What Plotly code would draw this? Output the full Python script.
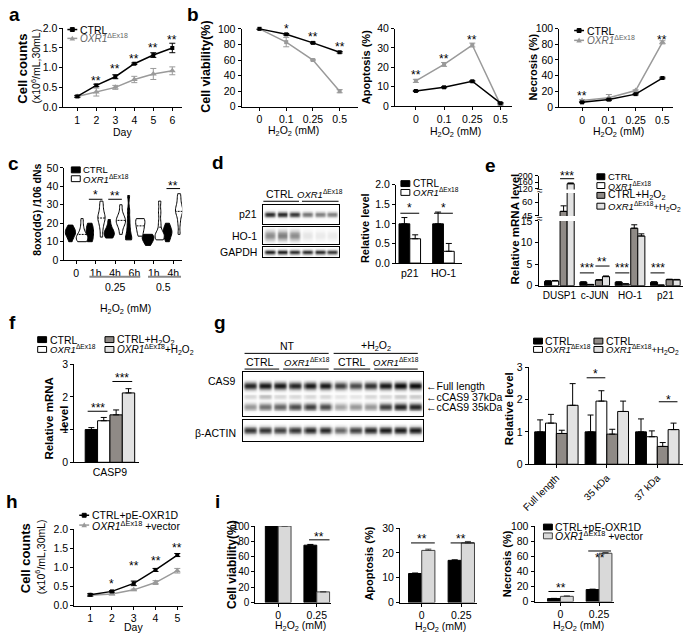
import numpy as np
import plotly.graph_objects as go

W, H = 685, 640
FONT = "Arial, 'Liberation Sans', Helvetica, sans-serif"
OX = "<i>OXR1</i><sup>ΔEx18</sup>"
H2O2 = "H<sub>2</sub>O<sub>2</sub>"
GREY_LINE = "#9a9a9a"
C_BLACK, C_WHITE, C_GREY, C_LIGHT = "#000000", "#ffffff", "#8f8a86", "#e2e2e2"
TICK = 10.5
XT = 10.5
STAR = 12

# ---------------- data ----------------
# a: growth curve
days_a = [1, 2, 3, 4, 5, 6]
a_ctrl = [0.27, 0.55, 0.77, 1.10, 1.32, 1.50]
a_ctrl_err = [0.02, 0.03, 0.05, 0.02, 0.06, 0.12]
a_oxr = [0.27, 0.38, 0.50, 0.70, 0.84, 0.92]
a_oxr_err = [0.03, 0.10, 0.05, 0.08, 0.14, 0.10]
a_stars = ["**", "**", "**", "**", "**"]
a_star_x = [2, 3, 4, 5, 6]
a_star_y = [0.75, 1.03, 1.30, 1.57, 1.78]

# b: H2O2 dose response
b_conc = ["0", "0.1", "0.25", "0.5"]
b_viab_ctrl = [100, 93, 82, 70]
b_viab_ctrl_err = [0.5, 1, 1, 1]
b_viab_oxr = [100, 83, 60, 20]
b_viab_oxr_err = [0.5, 6, 1, 2]
b_apo_ctrl = [7.8, 9.7, 12.8, 1.5]
b_apo_ctrl_err = [0.3, 0.3, 0.3, 0.3]
b_apo_oxr = [13.0, 21.5, 31.5, 0.6]
b_apo_oxr_err = [0.8, 1.0, 1.0, 0.4]
b_nec_ctrl = [6, 9.5, 16.5, 37]
b_nec_ctrl_err = [0.5, 1, 1, 1]
b_nec_oxr = [8.5, 12, 21, 82.5]
b_nec_oxr_err = [1, 4, 1, 2]

# c: 8oxo(dG) violins (observations per group)
c_groups = ["0", "1h", "4h", "6h", "1h", "4h"]
c_ctrl = [
    [10, 13, 14, 15, 15, 16, 17, 19],
    [10, 11, 12, 14, 15, 16, 17, 19, 20],
    [12, 13, 14, 14.5, 15, 16, 18, 22],
    [11, 11.5, 12, 15, 18, 22, 27, 35],
    [8, 10, 11.5, 12, 12.5, 13, 14],
    [10, 12, 14, 15, 15.5, 16, 18, 20],
]
c_oxr = [
    [10, 11, 11.5, 12, 12.5, 13, 15, 18, 22.5],
    [12.5, 17, 20, 22, 23, 24, 26, 29, 32],
    [14, 18, 20, 21, 21.5, 23, 25, 30],
    [13, 16, 18, 20, 22, 22.5],
    [11, 12, 13, 14, 15, 20, 26, 32],
    [14, 20, 24, 26, 27, 28, 30, 33, 36],
]

# d: western blot band intensities + quantification
d_p21_bands = [0.85, 0.85, 0.80, 0.55, 0.50, 0.50]
d_ho1_bands = [0.45, 0.50, 0.45, 0.10, 0.08, 0.08]
d_gapdh_bands = [0.90, 0.90, 0.85, 0.85, 0.85, 0.80]
d_cats = ["p21", "HO-1"]
d_ctrl = [1.0, 1.0]
d_ctrl_err = [0.16, 0.30]
d_oxr = [0.62, 0.30]
d_oxr_err = [0.10, 0.20]

# e: qPCR with broken axis
e_cats = ["DUSP1", "c-JUN", "HO-1", "p21"]
e_ctrl = [1.0, 0.8, 0.8, 0.8]
e_ctrl_err = [0.15, 0.1, 0.1, 0.1]
e_oxr = [1.1, 0.25, 0.35, 0.1]
e_oxr_err = [0.1, 0.05, 0.1, 0.05]
e_ctrl_h = [50, 1.3, 13.3, 1.4]
e_ctrl_h_err = [6, 0.1, 0.8, 0.1]
e_oxr_h = [150, 2.1, 11.5, 1.35]
e_oxr_h_err = [5, 0.15, 0.5, 0.1]

# f: CASP9 mRNA
f_cat = ["CASP9"]
f_vals = [1.0, 1.27, 1.45, 2.12]
f_errs = [0.06, 0.10, 0.15, 0.13]

# g: CAS9 blot + quantification
g_full = [0.85, 0.90, 0.90, 0.85, 0.90, 0.90, 0.75, 0.70, 0.80, 0.90, 0.95, 0.95]
g_37 = [0.15, 0.25, 0.15, 0.15, 0.15, 0.15, 0.10, 0.10, 0.15, 0.15, 0.20, 0.20]
g_35 = [0.40, 0.55, 0.60, 0.70, 0.75, 0.70, 0.35, 0.40, 0.40, 0.75, 0.85, 0.85]
g_actin = [0.80, 0.80, 0.75, 0.80, 0.85, 0.85, 0.60, 0.75, 0.85, 0.90, 0.90, 0.90]
g_cats = ["Full length", "35 kDa", "37 kDa"]
g_ctrl = [1.0, 1.0, 1.0]
g_ctrl_err = [0.37, 0.52, 0.40]
g_oxr = [1.27, 1.95, 0.85]
g_oxr_err = [0.27, 0.32, 0.18]
g_ctrl_h = [0.95, 0.93, 0.55]
g_ctrl_h_err = [0.10, 0.15, 0.12]
g_oxr_h = [1.82, 1.63, 1.07]
g_oxr_h_err = [0.67, 0.32, 0.20]

# h: rescue growth curve
days_h = [1, 2, 3, 4, 5]
h_ctrl = [0.28, 0.37, 0.58, 0.93, 1.32]
h_ctrl_err = [0.03, 0.02, 0.06, 0.04, 0.04]
h_oxr = [0.27, 0.30, 0.41, 0.60, 0.91]
h_oxr_err = [0.02, 0.02, 0.02, 0.05, 0.06]

# i: rescue viability / apoptosis / necrosis
i_conc = ["0", "0.25"]
i_viab_ctrl = [100, 75]
i_viab_ctrl_err = [0.3, 1]
i_viab_oxr = [100, 14]
i_viab_oxr_err = [0.3, 0.3]
i_apo_ctrl = [11.7, 17]
i_apo_ctrl_err = [0.2, 0.2]
i_apo_oxr = [21, 24]
i_apo_oxr_err = [0.5, 0.6]
i_nec_ctrl = [4, 16]
i_nec_ctrl_err = [0.3, 0.5]
i_nec_oxr = [7, 64]
i_nec_oxr_err = [0.5, 1]

# ---------------- helpers ----------------
fig = go.Figure()
ann, shp = [], []
count = [0]


def px(x, y):
    return x / W, 1 - y / H


def new_axes(x0, x1, ytop, ybot, xr, yr, xkw=None, ykw=None):
    count[0] += 1
    s = "" if count[0] == 1 else str(count[0])
    base = dict(showline=True, linecolor="black", linewidth=1, ticks="outside",
                ticklen=3, tickwidth=1, tickcolor="black", showgrid=False,
                zeroline=False, tickfont=dict(size=TICK, color="black", family=FONT),
                fixedrange=True)
    xa = dict(base, domain=[x0 / W, x1 / W], range=xr, anchor="y" + s)
    ya = dict(base, domain=[1 - ybot / H, 1 - ytop / H], range=yr, anchor="x" + s)
    if xkw:
        xa.update(xkw)
    if ykw:
        ya.update(ykw)
    fig.update_layout({"xaxis" + s: xa, "yaxis" + s: ya})
    return "x" + s, "y" + s


def text_px(x, y, t, size=10, angle=0, xanchor="center", color="black"):
    X, Y = px(x, y)
    ann.append(dict(x=X, y=Y, xref="paper", yref="paper", text=t, showarrow=False,
                    textangle=angle, xanchor=xanchor, yanchor="middle",
                    font=dict(size=size, color=color, family=FONT)))


def text_data(xa, ya, x, y, t, size=STAR):
    ann.append(dict(x=x, y=y, xref=xa, yref=ya, text=t, showarrow=False,
                    xanchor="center", yanchor="middle", yshift=-3,
                    font=dict(size=size, color="black", family=FONT)))


def star_px(xa, x, ypx, t, size=STAR):
    ann.append(dict(x=x, y=1 - ypx / H, xref=xa, yref="paper", text=t, showarrow=False,
                    xanchor="center", yanchor="middle", yshift=-3,
                    font=dict(size=size, color="black", family=FONT)))


def hline_data(xa, ya, x0, x1, y, color="black", width=1):
    shp.append(dict(type="line", xref=xa, yref=ya, x0=x0, x1=x1, y0=y, y1=y,
                    line=dict(color=color, width=width)))


def hline_px(x0, x1, y, color="black", width=1):
    X0, Y = px(x0, y)
    X1, _ = px(x1, y)
    shp.append(dict(type="line", xref="paper", yref="paper", x0=X0, x1=X1, y0=Y, y1=Y,
                    line=dict(color=color, width=width)))


def rect_px(x0, y0, x1, y1, fill, edge="black"):
    X0, Y0 = px(x0, y0)
    X1, Y1 = px(x1, y1)
    shp.append(dict(type="rect", xref="paper", yref="paper", x0=X0, x1=X1, y0=Y1, y1=Y0,
                    fillcolor=fill, line=dict(color=edge, width=1)))


def tri_px(cx, cy, r, fill):
    pts = [(cx, cy - r), (cx + r, cy + r * 0.8), (cx - r, cy + r * 0.8)]
    path = "M " + " L ".join(f"{p[0] / W},{1 - p[1] / H}" for p in pts) + " Z"
    shp.append(dict(type="path", xref="paper", yref="paper", path=path,
                    fillcolor=fill, line=dict(color=fill, width=0)))


def line_legend(x0, y, label, color, marker, size=10, tcolor="black"):
    hline_px(x0, x0 + 10, y, color, 1.5)
    if marker == "square":
        rect_px(x0 + 3, y - 2, x0 + 7, y + 2, color, color)
    else:
        tri_px(x0 + 5, y, 2.8, color)
    text_px(x0 + 11, y, label, size=size, xanchor="left", color=tcolor)


def box_legend(x0, y, label, fill, size=10, w=9, h=6):
    rect_px(x0, y - h / 2, x0 + w, y + h / 2, fill)
    text_px(x0 + w + 1, y, label, size=size, xanchor="left")


def line_trace(xa, ya, x, y, err, color, symbol, size):
    fig.add_trace(go.Scatter(
        x=x, y=y, mode="lines+markers", xaxis=xa, yaxis=ya, cliponaxis=False,
        line=dict(color=color, width=1.5),
        marker=dict(symbol=symbol, size=size, color=color),
        error_y=dict(type="data", array=err, color=color, thickness=1, width=3),
        showlegend=False, hoverinfo="skip"))


def bar_trace(xa, ya, x, y, err, offset, width, fill, edge="black"):
    fig.add_trace(go.Bar(
        x=x, y=y, offset=offset, width=width, xaxis=xa, yaxis=ya,
        marker=dict(color=fill, line=dict(color=edge, width=1)),
        error_y=dict(type="data", array=err, arrayminus=[0] * len(err),
                     symmetric=False, color=edge, thickness=1, width=3),
        showlegend=False, hoverinfo="skip"))


def blot(xa, ya, n, bands):
    xs = np.linspace(0.5, n + 0.5, n * 14)
    ys = np.linspace(0, 1, 48)
    lane = np.clip(np.rint(xs), 1, n).astype(int)
    prof_x = np.exp(-((xs - lane) / 0.43) ** 6)
    z = np.zeros((ys.size, xs.size))
    for inten, yc, sg in bands:
        amp = np.asarray(inten)[lane - 1] * prof_x
        z = np.maximum(z, np.exp(-((ys - yc) / sg) ** 2)[:, None] * amp[None, :])
    fig.add_trace(go.Heatmap(x=xs, y=ys, z=z, zmin=0, zmax=1, zsmooth="best",
                             colorscale=[[0, "#ffffff"], [1, "#000000"]],
                             showscale=False, xaxis=xa, yaxis=ya, hoverinfo="skip"))


BLOT_AX = dict(showticklabels=False, ticks="", mirror=True)

# ---------------- panel a ----------------
xa, ya = new_axes(57, 177, 22.7, 103, [0.27, 6.52], [0, 2.0],
                  xkw=dict(tickvals=days_a), ykw=dict(tickvals=[0, 0.5, 1, 1.5, 2], tickformat=".1f"))
line_trace(xa, ya, days_a, a_oxr, a_oxr_err, GREY_LINE, "triangle-up", 6)
line_trace(xa, ya, days_a, a_ctrl, a_ctrl_err, "black", "square", 4)
for x, y, t in zip(a_star_x, a_star_y, a_stars):
    text_data(xa, ya, x, y, t)
line_legend(61, 24, "CTRL", "black", "square", size=10.5)
line_legend(61, 33, OX, GREY_LINE, "tri", size=10, tcolor="#666")
text_px(16, 64, "<b>Cell counts</b>", size=13, angle=-90)
text_px(29, 61, "(x10<sup>6</sup>/mL,30mL)", size=10.5, angle=-90)
text_px(117, 128, "Day", size=XT)

# ---------------- panel b ----------------
bpos = list(range(len(b_conc)))
xa, ya = new_axes(237, 355, 23.3, 102.7, [-0.67, 3.7], [0, 100],
                  xkw=dict(tickvals=bpos, ticktext=b_conc), ykw=dict(dtick=20))
line_trace(xa, ya, bpos, b_viab_oxr, b_viab_oxr_err, GREY_LINE, "square", 4)
line_trace(xa, ya, bpos, b_viab_ctrl, b_viab_ctrl_err, "black", "square", 4)
star_px(xa, 1, 20.7, "*")
for x, y, t in zip([2, 3], [94, 81], ["**", "**"]):
    text_data(xa, ya, x, y, t)
text_px(201, 62, "<b>Cell viability(%)</b>", size=12.5, angle=-90)
text_px(289, 127, H2O2 + " (mM)", size=XT)

xa, ya = new_axes(392, 510, 23, 102, [-0.74, 3.4], [0, 40],
                  xkw=dict(tickvals=bpos, ticktext=b_conc), ykw=dict(dtick=10))
line_trace(xa, ya, bpos, b_apo_oxr, b_apo_oxr_err, GREY_LINE, "square", 4)
line_trace(xa, ya, bpos, b_apo_ctrl, b_apo_ctrl_err, "black", "square", 4)
for x, y in zip([0, 1, 2], [17.4, 25.8, 35.6]):
    text_data(xa, ya, x, y, "**")
text_px(363, 62, "<b>Apoptosis (%)</b>", size=11, angle=-90)
text_px(453, 128, H2O2 + " (mM)", size=XT)

xa, ya = new_axes(558, 673, 23, 103, [-0.85, 3.4], [0, 100],
                  xkw=dict(tickvals=bpos, ticktext=b_conc), ykw=dict(dtick=20))
line_trace(xa, ya, bpos, b_nec_oxr, b_nec_oxr_err, GREY_LINE, "triangle-up", 6)
line_trace(xa, ya, bpos, b_nec_ctrl, b_nec_ctrl_err, "black", "square", 4)
for x, y in zip([0, 3], [18.4, 89]):
    text_data(xa, ya, x, y, "**")
line_legend(573, 25, "CTRL", "black", "square", size=10.5)
line_legend(573, 35, OX, GREY_LINE, "tri", size=10, tcolor="#666")
text_px(531, 62, "<b>Necrosis (%)</b>", size=11, angle=-90)
text_px(618, 128, H2O2 + " (mM)", size=XT)

# ---------------- panel c ----------------
cpos = list(range(len(c_groups)))
xa, ya = new_axes(58, 177, 165, 259, [-0.61, 5.46], [0, 50],
                  xkw=dict(tickvals=cpos, ticktext=c_groups), ykw=dict(dtick=10))
cx_ctrl, cy_ctrl, cx_oxr, cy_oxr = [], [], [], []
for i, (vc, vo) in enumerate(zip(c_ctrl, c_oxr)):
    cx_ctrl += [i - 0.3] * len(vc)
    cy_ctrl += vc
    cx_oxr += [i + 0.3] * len(vo)
    cy_oxr += vo
fig.add_trace(go.Violin(x=cx_ctrl, y=cy_ctrl, xaxis=xa, yaxis=ya, width=0.6, spanmode="hard",
                        points=False, bandwidth=2.2, fillcolor="black", line=dict(color="black", width=1),
                        scalemode="width", showlegend=False, hoverinfo="skip"))
fig.add_trace(go.Violin(x=cx_oxr, y=cy_oxr, xaxis=xa, yaxis=ya, width=0.6, spanmode="hard",
                        points=False, bandwidth=2.2, fillcolor="white", line=dict(color="black", width=1),
                        meanline=dict(visible=True, color="black", width=1),
                        scalemode="width", showlegend=False, hoverinfo="skip"))
for x, y, t, ly in [(1, 37, "*", 33), (2, 36.5, "**", 33), (5, 41.6, "**", 38.8)]:
    text_data(xa, ya, x, y, t)
    hline_data(xa, ya, x - 0.35, x + 0.35, ly)
shp.append(dict(type="line", xref=xa, yref="paper", x0=0.68, x1=3.3, y0=1 - 276 / H, y1=1 - 276 / H,
                line=dict(color="#888", width=2)))
shp.append(dict(type="line", xref=xa, yref="paper", x0=3.7, x1=5.4, y0=1 - 276 / H, y1=1 - 276 / H,
                line=dict(color="#888", width=2)))
ann.append(dict(x=2, y=1 - 286 / H, xref=xa, yref="paper", text="0.25", showarrow=False,
                font=dict(size=TICK, family=FONT, color="black")))
ann.append(dict(x=4.5, y=1 - 286 / H, xref=xa, yref="paper", text="0.5", showarrow=False,
                font=dict(size=TICK, family=FONT, color="black")))
box_legend(65, 167, "CTRL", C_BLACK, size=9.5)
box_legend(65, 176, OX, C_WHITE, size=9.5)
text_px(30, 208, "<b>8oxo(dG) /106 dNs</b>", size=10.5, angle=-90)
text_px(120, 309, H2O2 + " (mM)", size=XT)

# ---------------- panel d ----------------
xa, ya = new_axes(259, 335, 203, 222, [0.5, 6.5], [0, 1], xkw=BLOT_AX, ykw=BLOT_AX)
blot(xa, ya, 6, [(d_p21_bands, 0.5, 0.14)])
xa, ya = new_axes(259, 335, 225, 243, [0.5, 6.5], [0, 1], xkw=BLOT_AX, ykw=BLOT_AX)
blot(xa, ya, 6, [(d_ho1_bands, 0.5, 0.28)])
xa, ya = new_axes(259, 335, 246, 256, [0.5, 6.5], [0, 1], xkw=BLOT_AX, ykw=BLOT_AX)
blot(xa, ya, 6, [(d_gapdh_bands, 0.5, 0.22)])
text_px(255, 212, "p21", size=10.5, xanchor="right")
text_px(255, 234, "HO-1", size=10.5, xanchor="right")
text_px(255, 251, "GAPDH", size=10.5, xanchor="right")
text_px(276, 192, "CTRL", size=10.5)
text_px(316, 192, OX, size=9.5)
hline_px(259, 295, 199)
hline_px(298, 335, 199)

dpos = list(range(len(d_cats)))
xa, ya = new_axes(393, 460, 182, 262, [-0.41, 1.56], [0, 2.0],
                  xkw=dict(tickvals=dpos, ticktext=d_cats, ticks=""),
                  ykw=dict(dtick=0.5, tickformat=".1f"))
bar_trace(xa, ya, dpos, d_ctrl, d_ctrl_err, -0.32, 0.32, C_BLACK)
bar_trace(xa, ya, dpos, d_oxr, d_oxr_err, 0.0, 0.32, C_WHITE)
for x in dpos:
    text_data(xa, ya, x, 1.47, "*")
    hline_data(xa, ya, x - 0.28, x + 0.28, 1.27)
box_legend(398, 181, "CTRL", C_BLACK, size=10)
box_legend(398, 190, OX, C_WHITE, size=9.5)
text_px(361, 226, "<b>Relative level</b>", size=11, angle=-90)

# ---------------- panel e (broken axis) ----------------
epos = list(range(len(e_cats)))
e_series = [(e_ctrl, e_ctrl_err, -0.42, C_BLACK), (e_oxr, e_oxr_err, -0.22, C_WHITE),
            (e_ctrl_h, e_ctrl_h_err, 0.02, C_GREY), (e_oxr_h, e_oxr_h_err, 0.22, C_LIGHT)]
e_segments = [
    (219, 285, [0, 15], [0, 5, 10, 15], True, 10.5),
    (190.5, 214, [45, 70], [45, 60], False, 9.5),
    (173, 187, [114, 200], [120, 160, 200], False, 9),
]
ex_main = None
for ytop, ybot, yr, tv, main, fs in e_segments:
    if main:
        xkw = dict(tickvals=epos, ticktext=e_cats, ticks="", tickangle=0,
                   tickfont=dict(size=10, color="black", family=FONT))
    else:
        xkw = dict(visible=False)
    xa, ya = new_axes(537, 683, ytop, ybot, [-0.59, 3.5], yr, xkw=xkw,
                      ykw=dict(tickvals=tv, tickfont=dict(size=fs, color="black", family=FONT)))
    if main:
        ex_main = xa
    for vals, errs, off, col in e_series:
        bar_trace(xa, ya, epos, vals, errs, off, 0.2, col)
for x, yt, t, yl, half in [(0.22, 170, "***", 176, 0.2), (1 - 0.22, 264, "***", 272, 0.2),
                           (1 + 0.22, 258, "**", 265, 0.2), (2 - 0.22, 264, "***", 272, 0.2),
                           (3 - 0.22, 264, "***", 272, 0.2)]:
    star_px(ex_main, x, yt, t)
    shp.append(dict(type="line", xref=ex_main, yref="paper", x0=x - half, x1=x + half,
                    y0=1 - yl / H, y1=1 - yl / H, line=dict(color="black", width=1)))
text_px(538, 216.5, "≈", size=10)
text_px(538, 188.5, "≈", size=10)
box_legend(596, 174, "CTRL", C_BLACK, size=9.5, w=8)
box_legend(596, 183, OX, C_WHITE, size=9, w=8)
box_legend(596, 193, "CTRL+" + H2O2, C_GREY, size=10.5, w=8)
box_legend(596, 204, OX + "+" + H2O2, C_LIGHT, size=9.5, w=8)
text_px(513, 227, "<b>Relative mRNA level</b>", size=11.5, angle=-90)

# ---------------- panel f ----------------
xa, ya = new_axes(68, 133, 365, 465, [-0.72, 0.58], [0, 3],
                  xkw=dict(tickvals=[0], ticktext=f_cat, ticks=""), ykw=dict(dtick=1))
for v, e, off, col in zip(f_vals, f_errs, [-0.5, -0.25, 0, 0.25], [C_BLACK, C_WHITE, C_GREY, C_LIGHT]):
    bar_trace(xa, ya, [0], [v], [e], off, 0.25, col)
text_data(xa, ya, -0.25, 1.75, "***")
hline_data(xa, ya, -0.45, -0.05, 1.56)
text_data(xa, ya, 0.25, 2.67, "***")
hline_data(xa, ya, 0.05, 0.45, 2.47)
box_legend(31, 340, "CTRL", C_BLACK, size=10.5)
box_legend(31, 350, OX, C_WHITE, size=9.5)
box_legend(99, 340, "CTRL+" + H2O2, C_GREY, size=10.5)
box_legend(99, 350, OX + "+" + H2O2, C_LIGHT, size=10)
text_px(50, 420, "<b>Relative mRNA<br>level</b>", size=11.5, angle=-90)

# ---------------- panel g ----------------
xa, ya = new_axes(238, 420, 373, 418, [0.5, 12.5], [0, 1], xkw=BLOT_AX, ykw=BLOT_AX)
blot(xa, ya, 12, [(g_full, 0.69, 0.08), (g_37, 0.44, 0.06), (g_35, 0.22, 0.08)])
xa, ya = new_axes(238, 420, 422, 443, [0.5, 12.5], [0, 1], xkw=BLOT_AX, ykw=BLOT_AX)
blot(xa, ya, 12, [(g_actin, 0.5, 0.17)])
text_px(233, 382, "CAS9", size=10.5, xanchor="right")
text_px(233, 435, "β-ACTIN", size=10.5, xanchor="right")
text_px(283, 347, "NT", size=10.5)
text_px(373, 347, "+" + H2O2, size=10.5)
hline_px(240, 325, 354)
hline_px(330, 415, 354)
text_px(256, 363, "CTRL", size=10.5)
text_px(303, 363, OX, size=9.5)
text_px(349, 363, "CTRL", size=10.5)
text_px(393, 363, OX, size=9.5)
hline_px(240, 275, 370)
hline_px(279, 325, 370)
hline_px(330, 367, 370)
hline_px(371, 415, 370)
text_px(421, 387, "←Full length", size=10.5, xanchor="left")
text_px(421, 398.5, "←cCAS9 37kDa", size=10.5, xanchor="left")
text_px(421, 408.5, "←cCAS9 35kDa", size=10.5, xanchor="left")

gpos = list(range(len(g_cats)))
xa, ya = new_axes(527, 683, 368, 467, [-0.55, 2.51], [0, 3],
                  xkw=dict(tickvals=gpos, ticktext=g_cats, tickangle=-45,
                           tickfont=dict(size=10, color="black", family=FONT)),
                  ykw=dict(dtick=1))
for vals, errs, off, col in [(g_ctrl, g_ctrl_err, -0.43, C_BLACK), (g_oxr, g_oxr_err, -0.215, C_WHITE),
                             (g_ctrl_h, g_ctrl_h_err, 0.0, C_GREY), (g_oxr_h, g_oxr_h_err, 0.215, C_LIGHT)]:
    bar_trace(xa, ya, gpos, vals, errs, off, 0.215, col)
text_data(xa, ya, 0.785, 2.89, "*")
hline_data(xa, ya, 0.6, 0.97, 2.67)
text_data(xa, ya, 2.215, 2.08, "*")
hline_data(xa, ya, 2.03, 2.4, 1.93)
box_legend(532, 341.5, "CTRL", C_BLACK, size=10.5)
box_legend(532, 350, OX, C_WHITE, size=9.5)
box_legend(593, 341.5, "CTRL", C_GREY, size=10.5)
box_legend(593, 350, OX + "+" + H2O2, C_LIGHT, size=9.5)
text_px(507, 410, "<b>Relative level</b>", size=11.5, angle=-90)

# ---------------- panel h ----------------
xa, ya = new_axes(68, 178, 533, 611, [0.27, 5.27], [0, 2.0],
                  xkw=dict(tickvals=days_h), ykw=dict(tickvals=[0, 0.5, 1, 1.5, 2], tickformat=".1f"))
line_trace(xa, ya, days_h, h_oxr, h_oxr_err, GREY_LINE, "triangle-up", 6)
line_trace(xa, ya, days_h, h_ctrl, h_ctrl_err, "black", "square", 4)
for x, y, t in zip([2, 3, 4, 5], [0.64, 1.10, 1.23, 1.59], ["*", "**", "**", "**"]):
    text_data(xa, ya, x, y, t)
line_legend(73, 519, "CTRL+pE-OXR1D", "black", "square", size=10.5)
line_legend(73, 529, OX + " +vector", GREY_LINE, "tri", size=10.5)
text_px(19, 563, "<b>Cell counts</b>", size=13, angle=-90)
text_px(33, 561, "(x10<sup>6</sup>/mL,30mL)", size=10.5, angle=-90)
text_px(128, 633, "Day", size=XT)

# ---------------- panel i ----------------
ipos = list(range(len(i_conc)))
I_LIGHT, I_EDGE = "#d9d9d9", "#444444"
panels_i = [
    (251, 327, 530, 608, [-0.59, 1.36], [0, 100], 20, i_viab_ctrl, i_viab_ctrl_err, i_viab_oxr, i_viab_oxr_err),
    (397, 475, 532, 608, [-0.55, 1.40], [0, 30], 10, i_apo_ctrl, i_apo_ctrl_err, i_apo_oxr, i_apo_oxr_err),
    (533, 613, 530, 607, [-0.67, 1.38], [0, 100], 20, i_nec_ctrl, i_nec_ctrl_err, i_nec_oxr, i_nec_oxr_err),
]
i_axes = []
for k, (x0, x1, yt, yb, xr, yr, dt, vc, ec, vo, eo) in enumerate(panels_i):
    ykw = dict(dtick=dt)
    if k == 0:
        ykw["tickfont"] = dict(size=10, color="black", family=FONT)
    xa, ya = new_axes(x0, x1, yt, yb, xr, yr, xkw=dict(tickvals=ipos, ticktext=i_conc), ykw=ykw)
    bar_trace(xa, ya, ipos, vc, ec, -0.333, 0.333, C_BLACK)
    bar_trace(xa, ya, ipos, vo, eo, 0.0, 0.333, I_LIGHT, I_EDGE)
    i_axes.append((xa, ya))
xa, ya = i_axes[0]
text_data(xa, ya, 1.06, 90, "**")
hline_data(xa, ya, 0.8, 1.33, 82)
xa, ya = i_axes[1]
for x in ipos:
    text_data(xa, ya, x, 26.9, "**")
    hline_data(xa, ya, x - 0.27, x + 0.33, 24)
xa, ya = i_axes[2]
text_data(xa, ya, 0.02, 22, "**")
hline_data(xa, ya, -0.31, 0.36, 13.4)
text_data(xa, ya, 1.02, 62, "**")
hline_data(xa, ya, 0.72, 1.31, 67)
rect_px(542, 528, 551, 534, C_BLACK)
text_px(552, 531, "CTRL+pE-OXR1D", size=10.5, xanchor="left")
rect_px(542, 537, 551, 543, I_LIGHT, I_EDGE)
text_px(552, 540, OX + " +vector", size=10.5, xanchor="left")
text_px(228, 569, "<b>Cell viability(%)</b>", size=12, angle=-90)
text_px(366, 568, "<b>Apoptosis (%)</b>", size=11, angle=-90)
text_px(506, 568, "<b>Necrosis (%)</b>", size=11, angle=-90)
text_px(297, 632, H2O2 + " (mM)", size=XT)
text_px(438, 633, H2O2 + " (mM)", size=XT)
text_px(577, 632, H2O2 + " (mM)", size=XT)

# ---------------- panel letters ----------------
for lx, ly, L in [(8, 9, "a"), (188, 9, "b"), (7, 160, "c"), (213, 159, "d"), (488, 163, "e"),
                  (6, 323, "f"), (215, 323, "g"), (5, 505, "h"), (213, 505, "i")]:
    text_px(lx, ly, f"<b>{L}</b>", size=19)

fig.update_layout(width=W, height=H, autosize=False, margin=dict(l=0, r=0, t=0, b=0),
                  plot_bgcolor="white", paper_bgcolor="white", showlegend=False,
                  barmode="overlay", violinmode="overlay",
                  font=dict(family=FONT, color="black", size=TICK),
                  annotations=ann, shapes=shp)
fig.write_html("out.html", include_plotlyjs=True, config={"displayModeBar": False},
               post_script="document.body.style.margin='0';document.body.style.overflow='hidden';")
